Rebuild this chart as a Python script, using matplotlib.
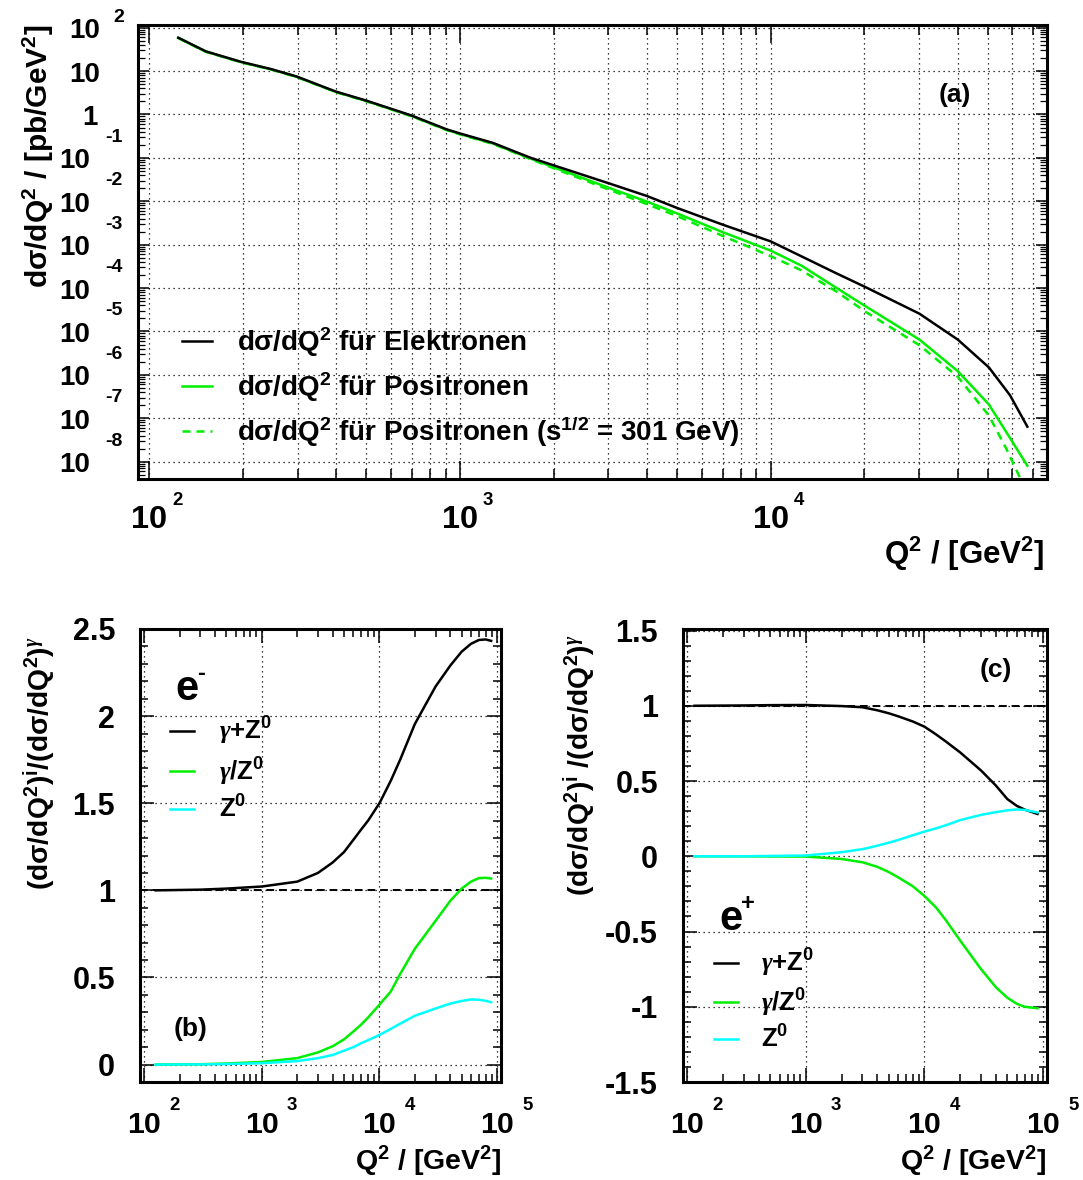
import numpy as np
import matplotlib.pyplot as plt
from matplotlib.ticker import LogLocator, MultipleLocator, FuncFormatter, NullFormatter

W, H, DPI = 1083, 1180, 100

plt.rcParams['font.family'] = ['Liberation Sans', 'DejaVu Sans']
plt.rcParams['font.weight'] = 'bold'
plt.rcParams['mathtext.fontset'] = 'custom'
plt.rcParams['mathtext.rm'] = 'Liberation Sans:bold'
plt.rcParams['mathtext.it'] = 'Liberation Serif:italic'
plt.rcParams['mathtext.bf'] = 'Liberation Sans:bold'
plt.rcParams['mathtext.sf'] = 'Liberation Sans:bold'
plt.rcParams['mathtext.default'] = 'rm'
plt.rcParams['axes.unicode_minus'] = False

GREEN = '#00ee00'
CYAN = '#00ffff'

# ---- (a) dsigma/dQ2 in pb/GeV^2 vs Q2 in GeV^2
q2_sig = [124, 152, 197, 248, 298, 398, 498, 699, 903, 1000, 1275, 1690,
          2000, 3000, 4000, 5000, 7000, 10000, 12550, 16240, 20200, 30100,
          40000, 50400, 58900, 67000]
sig_elec = [58.8, 28.5, 16.4, 11.0, 7.5, 3.38, 2.1, 0.944, 0.458, 0.365, 0.222, 0.100,
            0.0675, 0.0262, 0.0132, 0.0070, 0.0029, 1.19e-3, 5.4e-4, 2.2e-4, 1.05e-4, 2.57e-5,
            6.5e-6, 1.48e-6, 3.4e-7, 6.4e-8]
sig_posi = [58.0, 28.1, 16.2, 10.85, 7.4, 3.33, 2.06, 0.925, 0.447, 0.355, 0.215, 0.096,
            0.061, 0.0207, 0.0098, 0.00524, 0.00195, 7.3e-4, 3.3e-4, 1.02e-4, 3.81e-5, 6.5e-6,
            1.22e-6, 2.07e-7, 3.52e-8, 8.05e-9]
q2_sig301 = [124, 152, 197, 248, 298, 398, 498, 699, 903, 1000, 1275, 1690,
             2000, 3000, 4000, 5000, 7000, 10000, 12550, 16240, 20200, 30100,
             40000, 50400, 57400, 63700]
sig_posi301 = [57.5, 27.8, 16.0, 10.7, 7.3, 3.28, 2.03, 0.91, 0.44, 0.348, 0.21, 0.093,
               0.058, 0.0188, 0.00855, 0.00455, 0.0016, 5.43e-4, 2.57e-4, 8.4e-5, 2.84e-5, 4.83e-6,
               9.06e-7, 1.15e-7, 1.95e-8, 4.0e-9]

# ---- (b) electrons: contributions relative to pure photon exchange
q2_b = [125, 300, 500, 1000, 2000, 3000, 4000, 5000, 6000, 7000, 8000, 10000,
        12500, 15000, 20000, 30000, 40000, 50000, 60000, 70000, 80000, 89000]
b_sum = [1.0, 1.004, 1.01, 1.022, 1.05, 1.10, 1.16, 1.22, 1.29, 1.35, 1.40, 1.50,
         1.63, 1.75, 1.955, 2.17, 2.29, 2.37, 2.415, 2.437, 2.44, 2.432]
b_intf = [0.0, 0.002, 0.006, 0.015, 0.037, 0.07, 0.105, 0.145, 0.19, 0.23, 0.27, 0.344,
          0.42, 0.52, 0.665, 0.825, 0.94, 1.01, 1.05, 1.07, 1.072, 1.068]
b_z = [0.0, 0.001, 0.003, 0.008, 0.02, 0.037, 0.055, 0.08, 0.10, 0.123, 0.14, 0.17,
       0.205, 0.235, 0.28, 0.322, 0.35, 0.365, 0.374, 0.372, 0.366, 0.358]

# ---- (c) positrons
q2_c = [115, 300, 500, 1000, 2000, 3000, 4000, 5000, 6000, 8000, 10000, 12500,
        15000, 20000, 30000, 40000, 50000, 60000, 70000, 89800]
c_sum = [1.0, 1.002, 1.004, 1.005, 0.998, 0.99, 0.97, 0.95, 0.93, 0.895, 0.861, 0.81,
         0.765, 0.69, 0.57, 0.47, 0.38, 0.335, 0.31, 0.281]
c_intf = [0.0, 0.0, -0.001, -0.002, -0.018, -0.04, -0.07, -0.105, -0.14, -0.2, -0.264, -0.34,
          -0.42, -0.56, -0.75, -0.87, -0.94, -0.98, -1.0, -1.01]
c_z = [0.0, 0.0, 0.002, 0.005, 0.027, 0.047, 0.07, 0.09, 0.108, 0.14, 0.164, 0.185,
       0.205, 0.24, 0.275, 0.293, 0.305, 0.311, 0.308, 0.291]

leg_b = ['$\\mathit{\\gamma}$+Z$^{0}$', '$\\mathit{\\gamma}$/Z$^{0}$', 'Z$^{0}$']
leg_a = ['d$\\sigma$/dQ$^{2}$ für Elektronen',
         'd$\\sigma$/dQ$^{2}$ für Positronen',
         'd$\\sigma$/dQ$^{2}$ für Positronen (s$^{1/2}$ = 301 GeV)']


def px(v):
    # pixel distance -> points
    return v * 72.0 / DPI


fig = plt.figure(figsize=(W / DPI, H / DPI), dpi=DPI)


def box(l, t, r, b):
    return fig.add_axes([l / W, 1 - b / H, (r - l) / W, (b - t) / H])


ax_a = box(138.3, 25, 1047, 479)
ax_b = box(140, 629, 501, 1082)
ax_c = box(683, 629, 1047, 1082)

grid_kw = dict(color='black', linestyle=(0, (1, 3)), linewidth=0.9)

for ax in (ax_a, ax_b, ax_c):
    ax.set_xscale('log')
    ax.xaxis.set_major_locator(LogLocator(base=10, numticks=10))
    ax.xaxis.set_minor_locator(LogLocator(base=10, subs=np.arange(2, 10), numticks=10))
    ax.xaxis.set_major_formatter(NullFormatter())
    ax.xaxis.set_minor_formatter(NullFormatter())
    for s in ax.spines.values():
        s.set_linewidth(2.2)
    ax.set_axisbelow(True)


def xlabels_log(ax, decades, size, esize, base_dy, exp_dy, exp_dx):
    for k in decades:
        ax.annotate('10', xy=(10.0 ** k, 0), xycoords=('data', 'axes fraction'),
                    xytext=(0, -px(base_dy)), textcoords='offset points',
                    ha='center', va='baseline', fontsize=size, annotation_clip=False)
        ax.annotate(str(k), xy=(10.0 ** k, 0), xycoords=('data', 'axes fraction'),
                    xytext=(px(exp_dx), -px(exp_dy)), textcoords='offset points',
                    ha='left', va='baseline', fontsize=esize, annotation_clip=False)


# ---------------- (a)
ax = ax_a
ax.set_yscale('log')
ax.set_xlim(92.2, 77500)
ax.set_ylim(10 ** -8.4, 10 ** 2.062)
ax.set_yticks([10.0 ** k for k in range(-8, 3)])
ax.yaxis.set_minor_locator(LogLocator(base=10, subs=np.arange(2, 10), numticks=30))
ax.yaxis.set_major_formatter(NullFormatter())
ax.yaxis.set_minor_formatter(NullFormatter())
ax.tick_params(axis='x', which='major', direction='in', top=True, length=px(18), width=1.1)
ax.tick_params(axis='x', which='minor', direction='in', top=True, length=px(10), width=1.1)
ax.tick_params(axis='y', which='major', direction='in', right=True, length=px(11), width=1.1)
ax.tick_params(axis='y', which='minor', direction='in', right=True, length=px(7), width=0.9)
ax.grid(True, which='both', axis='x', **grid_kw)
ax.grid(True, which='major', axis='y', **grid_kw)

l_p301, = ax.plot(q2_sig301, sig_posi301, color=GREEN, lw=1.8, ls=(0, (3.2, 2.4)))
l_p, = ax.plot(q2_sig, sig_posi, color=GREEN, lw=1.8)
l_e, = ax.plot(q2_sig, sig_elec, color='black', lw=1.8)

ax.legend([l_e, l_p, l_p301], leg_a, loc='center left', bbox_to_anchor=(0.048, 0.2026),
          frameon=False, fontsize=20, handlelength=1.08, handletextpad=0.9,
          labelspacing=0.4, borderpad=0, borderaxespad=0)
ax.text(0.898, 0.846, '(a)', transform=ax.transAxes, ha='center', va='center', fontsize=19)

# y tick labels written ROOT style: base number plus raised exponent
for k in range(-8, 3):
    yv = 10.0 ** k
    if k == 0:
        base, dx = '1', -40.3
    elif k > 0:
        base, dx = '10', -38
    else:
        base, dx = '10', -48.3
    ax.annotate(base, xy=(0, yv), xycoords=('axes fraction', 'data'),
                xytext=(px(dx), -px(10.6)), textcoords='offset points',
                ha='right', va='baseline', fontsize=20, annotation_clip=False)
    if k == 2:
        ax.annotate('2', xy=(0, yv), xycoords=('axes fraction', 'data'),
                    xytext=(px(-25.3), px(5.7)), textcoords='offset points',
                    ha='left', va='baseline', fontsize=14, annotation_clip=False)
    elif k < 0:
        ax.annotate(str(k), xy=(0, yv), xycoords=('axes fraction', 'data'),
                    xytext=(px(-33.3), px(16)), textcoords='offset points',
                    ha='left', va='baseline', fontsize=14, annotation_clip=False)

xlabels_log(ax, [2, 3, 4], 23.4, 13.4, 49.3, 26, 23)

fig.text(1045 / W, 1 - 564 / H, 'Q$^{2}$ / [GeV$^{2}$]', ha='right', va='baseline', fontsize=22.5)
fig.text(38 / W, 1 - 24 / H, 'd$\\sigma$/dQ$^{2}$ / [pb/GeV$^{2}$]', rotation=90,
         ha='center', va='top', fontsize=21.5)


# ---------------- (b) and (c)
def ratio_panel(ax, q2, vsum, vintf, vz, ylim):
    ax.set_xlim(92, 1.08e5)
    ax.set_ylim(*ylim)
    ax.yaxis.set_major_locator(MultipleLocator(0.5))
    ax.yaxis.set_minor_locator(MultipleLocator(0.1))
    ax.yaxis.set_major_formatter(FuncFormatter(lambda v, p: '%g' % v))
    ax.tick_params(which='major', direction='in', top=True, right=True,
                   length=px(14), width=1.1, labelsize=22, pad=px(25))
    ax.tick_params(which='minor', direction='in', top=True, right=True,
                   length=px(8), width=1.1)
    ax.grid(True, which='major', **grid_kw)
    ax.axhline(1.0, color='black', lw=1.4, ls=(0, (4, 2.5)))
    h1, = ax.plot(q2, vsum, color='black', lw=1.8)
    h2, = ax.plot(q2, vintf, color=GREEN, lw=1.8)
    h3, = ax.plot(q2, vz, color=CYAN, lw=1.8)
    xlabels_log(ax, [2, 3, 4, 5], 21.8, 13.4, 51.3, 28, 25)
    return [h1, h2, h3]


hb = ratio_panel(ax_b, q2_b, b_sum, b_intf, b_z, (-0.1, 2.5))
hc = ratio_panel(ax_c, q2_c, c_sum, c_intf, c_z, (-1.5, 1.51))

ax_b.legend(hb, leg_b, loc='center left', bbox_to_anchor=(0.083, 0.691), frameon=False,
            fontsize=18.5, handlelength=0.92, handletextpad=0.97, labelspacing=0.31,
            borderpad=0, borderaxespad=0)
ax_c.legend(hc, leg_b, loc='center left', bbox_to_anchor=(0.085, 0.181), frameon=False,
            fontsize=18.5, handlelength=0.92, handletextpad=0.9, labelspacing=0.28,
            borderpad=0, borderaxespad=0)

# beam particle labels with a short raised charge sign
for ax, xe, ye, sign in ((ax_b, 0.097, 0.843, '-'), (ax_c, 0.099, 0.336, '+')):
    ax.text(xe, ye, 'e', transform=ax.transAxes, ha='left', va='baseline', fontsize=30)
    ax.annotate(sign, xy=(xe, ye), xycoords='axes fraction', xytext=(px(22), px(20)),
                textcoords='offset points', ha='left', va='baseline', fontsize=17)

ax_b.text(0.139, 0.117, '(b)', transform=ax_b.transAxes, ha='center', va='center', fontsize=19)
ax_c.text(0.86, 0.909, '(c)', transform=ax_c.transAxes, ha='center', va='center', fontsize=19)

for xr in (502, 1047):
    fig.text(xr / W, 1 - 1170 / H, 'Q$^{2}$ / [GeV$^{2}$]', ha='right', va='baseline', fontsize=20.5)
fig.text(40 / W, 1 - 636 / H,
         '(d$\\sigma$/dQ$^{2}$)$^{i}$/(d$\\sigma$/dQ$^{2}$)$^{\\mathit{\\gamma}}$',
         rotation=90, ha='center', va='top', fontsize=20.3)
fig.text(580 / W, 1 - 634 / H,
         '(d$\\sigma$/dQ$^{2}$)$^{i}$ /(d$\\sigma$/dQ$^{2}$)$^{\\mathit{\\gamma}}$',
         rotation=90, ha='center', va='top', fontsize=20.3)

fig.savefig('out.png', dpi=DPI)
